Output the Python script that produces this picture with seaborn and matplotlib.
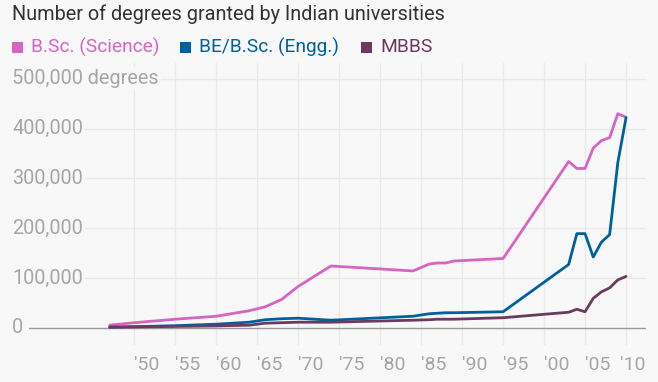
import matplotlib
matplotlib.use("Agg")
import matplotlib.pyplot as plt
import matplotlib.patches as mpatches
from matplotlib.transforms import ScaledTranslation
import seaborn as sns
import pandas as pd

# data
years = [1947, 1950, 1955, 1960, 1964, 1966, 1968, 1970, 1974, 1984, 1986, 1987,
         1988, 1989, 1995, 2003, 2004, 2005, 2006, 2007, 2008, 2009, 2010]
bsc = [5000, 10000, 17000, 23000, 34000, 42000, 57000, 83000, 124000, 114000, 128000, 130000,
       130000, 134000, 139000, 334000, 320000, 320000, 361000, 376000, 382000, 430000, 423000]
be = [1000, 2000, 4000, 7000, 11000, 16000, 18000, 19000, 15000, 23000, 28000, 29000,
      30000, 30000, 32000, 127000, 189000, 189000, 142000, 172000, 187000, 332000, 422000]
mbbs = [1000, 1500, 2500, 3500, 5000, 9000, 10000, 11000, 11000, 15000, 16000, 17000,
        17000, 17000, 20000, 31000, 37000, 32000, 59000, 72000, 80000, 96000, 103000]

series_names = ["B.Sc. (Science)", "BE/B.Sc. (Engg.)", "MBBS"]
colors = ["#d565c1", "#00609e", "#6c3a5e"]

y_ticks = [0, 100000, 200000, 300000, 400000, 500000]
y_labels = ["0", "100,000", "200,000", "300,000", "400,000", "500,000 degrees"]
x_ticks = [1950, 1955, 1960, 1965, 1970, 1975, 1980, 1985, 1990, 1995, 2000, 2005, 2010]
x_labels = ["'50", "'55", "'60", "'65", "'70", "'75", "'80", "'85", "'90", "'95", "'00", "'05", "'10"]

df = pd.DataFrame({
    "year": years * 3,
    "degrees": bsc + be + mbbs,
    "course": [series_names[0]] * len(years) + [series_names[1]] * len(years) + [series_names[2]] * len(years),
})

bg = "#f8f8f8"
sns.set_theme(style="white")
plt.rcParams["font.family"] = ["Roboto", "DejaVu Sans"]

fig = plt.figure(figsize=(6.58, 3.82), dpi=100, facecolor=bg)
ax = fig.add_axes([0.0441, 0.0969, 0.9377, 0.7382])
ax.set_facecolor(bg)

sns.lineplot(data=df, x="year", y="degrees", hue="course", palette=colors,
             estimator=None, sort=False, linewidth=2.0, legend=False, ax=ax, zorder=3)

ax.set_xlim(1937.16, 2012.44)
ax.set_ylim(-34800, 532000)

# grid
for x in x_ticks:
    ax.axvline(x, color="#e9e9e9", lw=1, zorder=0)
for y in y_ticks[1:]:
    ax.axhline(y, color="#e9e9e9", lw=1, zorder=0)
ax.axhline(0, color="#9a9a9a", lw=1, zorder=2)

for s in ax.spines.values():
    s.set_visible(False)

ax.set_xticks(x_ticks)
ax.set_xticklabels(x_labels, ha="left")
ax.tick_params(axis="x", length=0, pad=8, labelsize=14, labelcolor="#a6a6a6")
last = ax.get_xticklabels()[-1]
last.set_transform(last.get_transform() + ScaledTranslation(-0.06, 0, fig.dpi_scale_trans))
ax.set_yticks([])
ax.set_xlabel("")
ax.set_ylabel("")

# y labels sit over the grid at the far left
x_lab = (12 - 29) / 617
for y, lab in zip(y_ticks, y_labels):
    ax.text(x_lab, y, lab, transform=ax.get_yaxis_transform(), ha="left", va="center",
            fontsize=14.3, color="#a6a6a6", clip_on=False, zorder=4,
            bbox=dict(facecolor=bg, edgecolor="none", pad=1.5))

# title and legend
fig.text(12 / 658, 1 - 14 / 382, "Number of degrees granted by Indian universities",
         ha="left", va="center", fontsize=14.3, color="#333333")

legend_x = [12, 180, 361]
for lx, name, c in zip(legend_x, series_names, colors):
    fig.patches.append(mpatches.Rectangle((lx / 658, 1 - 53 / 382), 11 / 658, 11 / 382,
                                          transform=fig.transFigure, facecolor=c, edgecolor="none"))
    fig.text((lx + 19) / 658, 1 - 47 / 382, name, ha="left", va="center", fontsize=13.8, color=c)

fig.savefig("out.png", dpi=100, facecolor=bg)
